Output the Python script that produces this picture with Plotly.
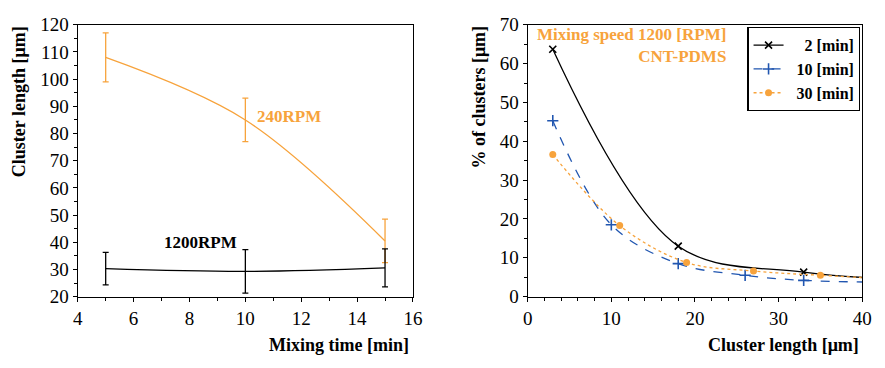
import plotly.graph_objects as go

# Left panel data
time_min = [5, 10, 15]
len_240 = [108, 85, 40.5]
err_240 = [9, 8, 8]
len_1200 = [30.3, 29.3, 30.6]
err_1200 = [6, 8, 7]

# Right panel data
x_2 = [3, 18, 33, 48]
y_2 = [63.7, 13.0, 6.3, 4.2]
x_10 = [3, 10, 18, 26, 33, 48]
y_10 = [45.3, 18.5, 8.5, 5.5, 4.2, 3.6]
x_30 = [3, 11, 19, 27, 35, 45]
y_30 = [36.6, 18.3, 8.8, 6.6, 5.5, 4.4]

ORANGE = "#f7a33c"
BLUE = "#2156b0"
FONT = "Liberation Serif, Times New Roman, serif"

fig = go.Figure()

fig.add_trace(go.Scatter(x=time_min, y=len_240, mode="lines", line=dict(color=ORANGE, width=1.3, shape="spline"),
                         error_y=dict(type="data", array=err_240, color=ORANGE, thickness=1.3, width=3),
                         showlegend=False, xaxis="x", yaxis="y"))
fig.add_trace(go.Scatter(x=time_min, y=len_1200, mode="lines", line=dict(color="black", width=1.3, shape="spline"),
                         error_y=dict(type="data", array=err_1200, color="black", thickness=1.3, width=3),
                         showlegend=False, xaxis="x", yaxis="y"))

fig.add_trace(go.Scatter(x=x_2, y=y_2, mode="lines+markers", name="\u2007\u20072 [min]",
                         line=dict(color="black", width=1.3, shape="spline", smoothing=1.0),
                         marker=dict(symbol="x-thin", size=7, line=dict(color="black", width=1.6)),
                         xaxis="x2", yaxis="y2"))
fig.add_trace(go.Scatter(x=x_10, y=y_10, mode="lines+markers", name="\u200710 [min]",
                         line=dict(color=BLUE, width=1.3, shape="spline", dash="dash"),
                         marker=dict(symbol="cross-thin", size=8, line=dict(color=BLUE, width=1.6)),
                         xaxis="x2", yaxis="y2"))
fig.add_trace(go.Scatter(x=x_30, y=y_30, mode="lines+markers", name="\u200730 [min]",
                         line=dict(color=ORANGE, width=1.3, shape="spline", dash="dot"),
                         marker=dict(symbol="circle", size=7, color=ORANGE),
                         xaxis="x2", yaxis="y2"))

axis_common = dict(showline=True, linecolor="black", linewidth=1.3, mirror=True,
                   ticks="outside", ticklen=4, tickwidth=1, tickcolor="black",
                   showgrid=False, zeroline=False,
                   tickfont=dict(family=FONT, size=19, color="black"))

fig.update_layout(
    width=885, height=368,
    margin=dict(l=0, r=0, t=0, b=0),
    font=dict(family=FONT, color="black"),
    plot_bgcolor="white", paper_bgcolor="white",
    xaxis=dict(domain=[74/885, 415/885], range=[4, 16], dtick=2, anchor="y",
               minor=dict(dtick=1, ticks="outside", ticklen=3, tickcolor="black"), **axis_common),
    yaxis=dict(domain=[1-304/368, 1-15.7/368], range=[20, 120], dtick=10, anchor="x",
               minor=dict(dtick=5, ticks="outside", ticklen=3, tickcolor="black"), **axis_common),
    xaxis2=dict(domain=[531.7/885, 872/885], range=[0, 40], dtick=10, anchor="y2",
                minor=dict(dtick=2, ticks="outside", ticklen=3, tickcolor="black"), **axis_common),
    yaxis2=dict(domain=[1-304/368, 1-15.7/368], range=[0, 70], dtick=10, anchor="x2",
                minor=dict(dtick=5, ticks="outside", ticklen=3, tickcolor="black"), **axis_common),
    legend=dict(x=870/885, y=1-18/368, xanchor="right", yanchor="top",
                bordercolor="black", borderwidth=1.3, bgcolor="white",
                font=dict(family=FONT, size=16, color="black", weight="bold"),
                itemwidth=30, tracegroupgap=0),
)

ann_font = dict(family=FONT, size=18, color="black", weight="bold")
annotations = [
    dict(text="Cluster length [μm]", x=15/885, y=1-97/368, textangle=-90),
    dict(text="% of clusters [μm]", x=482/885, y=1-92/368, textangle=-90),
    dict(text="Mixing time [min]", x=413/885, y=1-355/368, xanchor="right"),
    dict(text="Cluster length [μm]", x=871/885, y=1-355/368, xanchor="right"),
]
for a in annotations:
    fig.add_annotation(xref="paper", yref="paper", showarrow=False, yanchor="middle",
                       xanchor=a.get("xanchor", "center"), x=a["x"], y=a["y"],
                       text=a["text"], textangle=a.get("textangle", 0), font=ann_font)

fig.add_annotation(xref="paper", yref="paper", showarrow=False, x=254/885, y=1-113/368,
                   xanchor="left", yanchor="middle", text="240RPM",
                   font=dict(family=FONT, size=17, color=ORANGE, weight="bold"))
fig.add_annotation(xref="paper", yref="paper", showarrow=False, x=160/885, y=1-247/368,
                   xanchor="left", yanchor="middle", text="1200RPM",
                   font=dict(family=FONT, size=17, color="black", weight="bold"))
fig.add_annotation(xref="paper", yref="paper", showarrow=False, x=735/885, y=1-38/368,
                   xanchor="right", yanchor="middle", align="right",
                   text="Mixing speed 1200 [RPM]<br>CNT-PDMS",
                   font=dict(family=FONT, size=17, color=ORANGE, weight="bold"))

fig.write_html("out.html")
